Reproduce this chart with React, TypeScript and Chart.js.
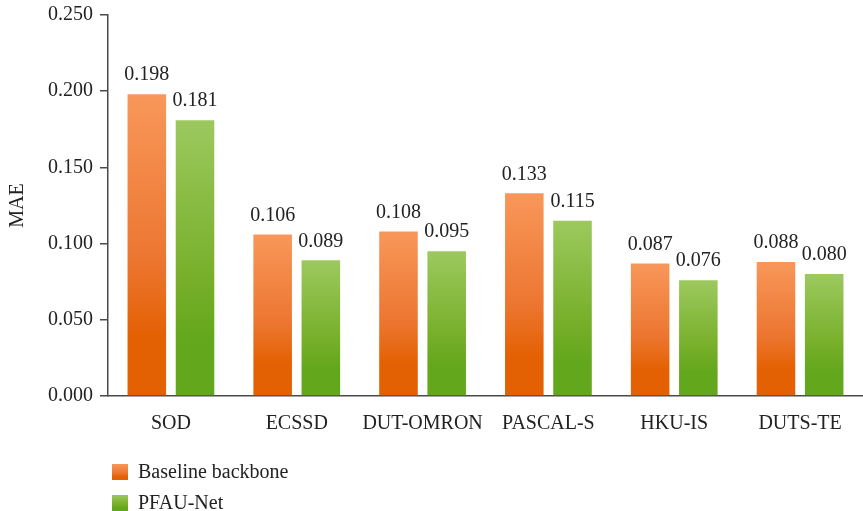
import React, { useEffect, useRef } from "react";
import { Chart, registerables } from "chart.js";

Chart.register(...registerables);

const categories = ["SOD", "ECSSD", "DUT-OMRON", "PASCAL-S", "HKU-IS", "DUTS-TE"];
const baselineValues = [0.198, 0.106, 0.108, 0.133, 0.087, 0.088];
const pfauValues = [0.181, 0.089, 0.095, 0.115, 0.076, 0.08];
const seriesNames = ["Baseline backbone", "PFAU-Net"];
const yTicks = [0, 0.05, 0.1, 0.15, 0.2, 0.25];

const FONT = "'Liberation Serif', 'DejaVu Serif', serif";
const FS = 20;
const TEXT = "#222";
const AXIS = "#4a4a4a";

const palettes = [
  { top: "#F8975A", mid: "#EC7630", bottom: "#E46103" },
  { top: "#9CC95E", mid: "#79B02C", bottom: "#63A71C" },
];

function gradient(ctx: CanvasRenderingContext2D, y0: number, y1: number, p: { top: string; mid: string; bottom: string }) {
  const g = ctx.createLinearGradient(0, y0, 0, y1);
  g.addColorStop(0, p.top);
  g.addColorStop(0.55, p.mid);
  g.addColorStop(0.8, p.bottom);
  g.addColorStop(1, p.bottom);
  return g;
}

const valueLabels = {
  id: "valueLabels",
  afterDatasetsDraw(chart: any) {
    const ctx = chart.ctx;
    ctx.save();
    ctx.font = `${FS}px ${FONT}`;
    ctx.fillStyle = TEXT;
    ctx.textAlign = "center";
    ctx.textBaseline = "bottom";
    chart.data.datasets.forEach((ds: any, di: number) => {
      const meta = chart.getDatasetMeta(di);
      meta.data.forEach((bar: any, i: number) => {
        ctx.fillText(Number(ds.data[i]).toFixed(3), bar.x, bar.y - 9);
      });
    });
    ctx.restore();
  },
};

const customLegend = {
  id: "customLegend",
  afterDraw(chart: any) {
    const ctx = chart.ctx;
    ctx.save();
    ctx.font = `${FS}px ${FONT}`;
    ctx.textBaseline = "middle";
    ctx.textAlign = "left";
    const ys = [472, 503];
    seriesNames.forEach((name, i) => {
      const cy = ys[i];
      ctx.fillStyle = gradient(ctx, cy - 8, cy + 8, palettes[i]);
      ctx.fillRect(112, cy - 8, 16, 16);
      ctx.fillStyle = TEXT;
      ctx.fillText(name, 138, cy + 1);
    });
    ctx.restore();
  },
};

export default function App() {
  const ref = useRef<HTMLCanvasElement | null>(null);
  useEffect(() => {
    if (!ref.current) return;
    const bg = (idx: number) => (c: any) => {
      const chart = c.chart;
      const area = chart.chartArea;
      if (!area || c.type !== "data") return palettes[idx].bottom;
      const ys = chart.scales.y;
      const top = ys.getPixelForValue(c.raw);
      const base = ys.getPixelForValue(0);
      return gradient(chart.ctx, top, base, palettes[idx]);
    };
    const chart = new Chart(ref.current, {
      type: "bar",
      data: {
        labels: categories,
        datasets: [
          { label: seriesNames[0], data: baselineValues, backgroundColor: bg(0) as any, categoryPercentage: 0.766, barPercentage: 0.8 },
          { label: seriesNames[1], data: pfauValues, backgroundColor: bg(1) as any, categoryPercentage: 0.766, barPercentage: 0.8 },
        ],
      },
      options: {
        animation: false,
        responsive: false,
        maintainAspectRatio: false,
        layout: { padding: { top: 0, right: 0, bottom: 70, left: 0 } },
        plugins: { legend: { display: false }, tooltip: { enabled: false } },
        scales: {
          x: {
            grid: { display: false },
            border: { display: true, color: AXIS, width: 1.5 },
            ticks: { color: TEXT, font: { family: FONT, size: FS }, padding: 8, maxRotation: 0 },
            afterFit: (s: any) => { s.height = 45; },
          },
          y: {
            min: 0,
            max: 0.25,
            afterBuildTicks: (s: any) => { s.ticks = yTicks.map((v) => ({ value: v })); },
            grid: { display: true, drawOnChartArea: false, drawTicks: true, tickLength: 8, color: AXIS, lineWidth: 1.5 },
            border: { display: true, color: AXIS, width: 1.5 },
            ticks: { color: TEXT, font: { family: FONT, size: FS, lineHeight: 1.5 }, padding: 7, callback: (v: any) => Number(v).toFixed(3) },
            title: { display: true, text: "MAE", color: TEXT, font: { family: FONT, size: FS }, padding: { top: 6, bottom: 0 } },
            afterFit: (s: any) => { s.width = 108; s.paddingTop = 15; },
          },
        },
      },
      plugins: [valueLabels, customLegend],
    });
    return () => chart.destroy();
  }, []);
  return (
    <div style={{ position: "absolute", left: 0, top: 0, width: 863, height: 511, background: "#fff" }}>
      <canvas ref={ref} width={863} height={511} style={{ width: 863, height: 511 }} />
    </div>
  );
}
